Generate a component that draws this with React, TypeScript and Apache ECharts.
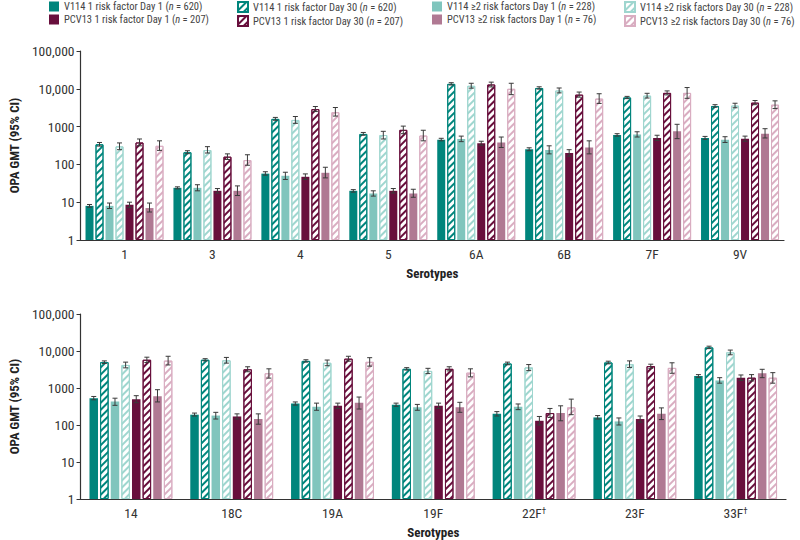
import React, { useEffect, useRef } from 'react';
import * as echarts from 'echarts';

const topCats = ['1', '3', '4', '5', '6A', '6B', '7F', '9V'];
const bottomCats = ['14', '18C', '19A', '19F', '22F†', '23F', '33F†'];

const names = [
  'V114 1 risk factor Day 1 (n = 620)',
  'V114 1 risk factor Day 30 (n = 620)',
  'V114 ≥2 risk factors Day 1 (n = 228)',
  'V114 ≥2 risk factors Day 30 (n = 228)',
  'PCV13 1 risk factor Day 1 (n = 207)',
  'PCV13 1 risk factor Day 30 (n = 207)',
  'PCV13 ≥2 risk factors Day 1 (n = 76)',
  'PCV13 ≥2 risk factors Day 30 (n = 76)',
];

// ---- Top panel (serotypes 1 ... 9V) ----
const topV1D1 = [8, 24, 57, 20, 450, 250, 600, 500];
const topV1D1Lo = [7.4, 22.5, 52, 18.5, 420, 230, 560, 460];
const topV1D1Hi = [8.7, 25.5, 64, 21.5, 490, 275, 650, 550];

const topV1D30 = [340, 210, 1600, 640, 13500, 10500, 5900, 3500];
const topV1D30Lo = [305, 192, 1470, 590, 12600, 9800, 5500, 3250];
const topV1D30Hi = [380, 230, 1750, 700, 14500, 11300, 6300, 3800];

const topV2D1 = [8, 24, 50, 17, 470, 240, 620, 450];
const topV2D1Lo = [6.8, 20, 40, 14.5, 400, 190, 530, 380];
const topV2D1Hi = [9.5, 29, 62, 20, 560, 310, 730, 540];

const topV2D30 = [300, 240, 1500, 600, 12000, 9000, 6600, 3600];
const topV2D30Lo = [245, 200, 1220, 470, 10400, 7800, 5700, 3150];
const topV2D30Hi = [370, 295, 1850, 750, 14000, 10500, 7600, 4150];

const topP1D1 = [8.5, 20, 47, 20, 360, 200, 500, 480];
const topP1D1Lo = [7.2, 17.5, 40, 17.5, 320, 165, 430, 410];
const topP1D1Hi = [10, 23, 56, 23, 410, 245, 590, 560];

const topP1D30 = [380, 160, 2900, 820, 13000, 7000, 7800, 4300];
const topP1D30Lo = [310, 135, 2500, 650, 11200, 6000, 6900, 3800];
const topP1D30Hi = [470, 190, 3400, 1030, 15000, 8200, 8800, 4900];

const topP2D1 = [7, 20, 60, 17, 380, 280, 750, 650];
const topP2D1Lo = [5.5, 15, 44, 13.5, 280, 190, 480, 500];
const topP2D1Hi = [9.5, 27, 84, 22, 530, 420, 1150, 880];

const topP2D30 = [310, 130, 2400, 580, 10000, 5500, 7800, 3800];
const topP2D30Lo = [235, 95, 1900, 420, 7000, 4100, 5600, 3000];
const topP2D30Hi = [420, 180, 3200, 800, 14000, 7400, 10800, 4800];

// ---- Bottom panel (serotypes 14 ... 33F) ----
const botV1D1 = [530, 190, 380, 350, 200, 160, 2100];
const botV1D1Lo = [480, 175, 345, 320, 175, 145, 1950];
const botV1D1Hi = [590, 210, 420, 390, 230, 180, 2300];

const botV1D30 = [5000, 5800, 5400, 3300, 4600, 4900, 12500];
const botV1D30Lo = [4600, 5400, 5000, 3050, 4250, 4500, 11600];
const botV1D30Hi = [5400, 6200, 5800, 3550, 5000, 5300, 13500];

const botV2D1 = [430, 180, 310, 300, 310, 125, 1600];
const botV2D1Lo = [340, 145, 250, 250, 260, 100, 1350];
const botV2D1Hi = [530, 220, 390, 360, 370, 155, 1900];

const botV2D30 = [4200, 5600, 4800, 2900, 3600, 4400, 9200];
const botV2D30Lo = [3500, 4700, 4000, 2450, 2950, 3600, 7900];
const botV2D30Hi = [5000, 6700, 5700, 3400, 4300, 5400, 10600];

const botP1D1 = [500, 170, 330, 330, 130, 145, 1900];
const botP1D1Lo = [400, 145, 280, 280, 100, 120, 1600];
const botP1D1Hi = [620, 200, 390, 390, 170, 175, 2250];

const botP1D30 = [5800, 3200, 6200, 3300, 210, 3900, 1900];
const botP1D30Lo = [4900, 2750, 5300, 2900, 160, 3400, 1550];
const botP1D30Hi = [6800, 3750, 7200, 3750, 280, 4400, 2300];

const botP2D1 = [600, 145, 400, 300, 210, 200, 2500];
const botP2D1Lo = [420, 105, 270, 220, 130, 140, 1900];
const botP2D1Hi = [900, 200, 570, 410, 330, 290, 3200];

const botP2D30 = [5500, 2500, 5100, 2600, 300, 3500, 1900];
const botP2D30Lo = [4200, 1850, 3900, 2000, 190, 2500, 1350];
const botP2D30Hi = [7200, 3300, 6600, 3300, 500, 4800, 2600];

const topVals = [topV1D1, topV1D30, topV2D1, topV2D30, topP1D1, topP1D30, topP2D1, topP2D30];
const topLo = [topV1D1Lo, topV1D30Lo, topV2D1Lo, topV2D30Lo, topP1D1Lo, topP1D30Lo, topP2D1Lo, topP2D30Lo];
const topHi = [topV1D1Hi, topV1D30Hi, topV2D1Hi, topV2D30Hi, topP1D1Hi, topP1D30Hi, topP2D1Hi, topP2D30Hi];
const botVals = [botV1D1, botV1D30, botV2D1, botV2D30, botP1D1, botP1D30, botP2D1, botP2D30];
const botLo = [botV1D1Lo, botV1D30Lo, botV2D1Lo, botV2D30Lo, botP1D1Lo, botP1D30Lo, botP2D1Lo, botP2D30Lo];
const botHi = [botV1D1Hi, botV1D30Hi, botV2D1Hi, botV2D30Hi, botP1D1Hi, botP1D30Hi, botP2D1Hi, botP2D30Hi];

const FONT = '"Roboto Condensed", "Liberation Sans", Arial, sans-serif';
const TEAL = '#00857c';
const LTEAL = '#80c5bd';
const PURPLE = '#680f3c';
const MAUVE = '#b07993';

const hatch = (border: string, stripe: string) => ({
  color: '#ffffff',
  borderColor: border,
  borderWidth: 1,
  decal: {
    symbol: 'rect',
    symbolSize: 1,
    color: stripe,
    dashArrayX: [1, 0],
    dashArrayY: [2, 2.5],
    rotation: -Math.PI / 4,
  },
});

const styles: any[] = [
  { color: TEAL },
  hatch(TEAL, TEAL),
  { color: LTEAL },
  hatch('#9fd6cf', '#9fd6cf'),
  { color: PURPLE },
  hatch(PURPLE, PURPLE),
  { color: MAUVE },
  hatch('#d9adc1', '#d9adc1'),
];

const fmtY = (v: number) => (v >= 10000 ? v.toLocaleString('en-US') : String(v));

function makeErr(step: number) {
  return (params: any, api: any) => {
    const c = api.value(0);
    const k = api.value(1);
    const pLo = api.coord([c, api.value(2)]);
    const pHi = api.coord([c, api.value(3)]);
    const x = pLo[0] + (k - 3.5) * step;
    const cw = 2.5;
    const st = { stroke: '#3a3a3a', lineWidth: 1 };
    return {
      type: 'group',
      children: [
        { type: 'line', shape: { x1: x, y1: pLo[1], x2: x, y2: pHi[1] }, style: st },
        { type: 'line', shape: { x1: x - cw, y1: pHi[1], x2: x + cw, y2: pHi[1] }, style: st },
        { type: 'line', shape: { x1: x - cw, y1: pLo[1], x2: x + cw, y2: pLo[1] }, style: st },
      ],
    };
  };
}

function errData(lo: number[][], hi: number[][]) {
  const out: number[][] = [];
  lo.forEach((arr, k) => arr.forEach((l, c) => out.push([c, k, l, hi[k][c]])));
  return out;
}

export default function App() {
  const ref = useRef<HTMLDivElement>(null);
  useEffect(() => {
    if (!ref.current) return;
    const chart = echarts.init(ref.current, undefined, { renderer: 'svg' });

    const xAxisBase = (cats: string[], gridIndex: number) => ({
      type: 'category',
      gridIndex,
      data: cats,
      name: 'Serotypes',
      nameLocation: 'middle',
      nameGap: 27,
      nameTextStyle: { fontFamily: FONT, fontWeight: 'bold', fontSize: 13, color: '#222' },
      axisLine: { lineStyle: { color: '#333', width: 1.2 } },
      axisTick: { alignWithLabel: true, length: 4, lineStyle: { color: '#333' } },
      axisLabel: {
        fontFamily: FONT,
        fontSize: 13.5,
        color: '#333',
        margin: 7,
        formatter: (v: string) => v.replace('†', '{s|†}'),
        rich: { s: { fontFamily: FONT, fontSize: 9, color: '#333', verticalAlign: 'top' } },
      },
    });
    const yAxisBase = (gridIndex: number) => ({
      type: 'log',
      logBase: 10,
      gridIndex,
      min: 1,
      max: 100000,
      name: 'OPA GMT (95% CI)',
      nameLocation: 'middle',
      nameGap: 58,
      nameTextStyle: { fontFamily: FONT, fontWeight: 'bold', fontSize: 13, color: '#222' },
      axisLine: { show: true, lineStyle: { color: '#333', width: 1.2 } },
      axisTick: { show: true, length: 4, lineStyle: { color: '#333' } },
      axisLabel: { fontFamily: FONT, fontSize: 13.5, color: '#333', margin: 6, formatter: fmtY },
      splitLine: { show: false },
    });

    const series: any[] = [];
    names.forEach((n, k) => {
      series.push({
        name: n,
        type: 'bar',
        xAxisIndex: 0,
        yAxisIndex: 0,
        data: topVals[k],
        barWidth: 8,
        barGap: '25%',
        itemStyle: styles[k],
      });
    });
    names.forEach((n, k) => {
      series.push({
        name: n,
        type: 'bar',
        xAxisIndex: 1,
        yAxisIndex: 1,
        data: botVals[k],
        barWidth: 8.5,
        barGap: '25%',
        itemStyle: styles[k],
      });
    });
    series.push({
      type: 'custom',
      xAxisIndex: 0,
      yAxisIndex: 0,
      renderItem: makeErr(10),
      encode: { x: 0, y: [2, 3] },
      data: errData(topLo, topHi),
      z: 5,
    });
    series.push({
      type: 'custom',
      xAxisIndex: 1,
      yAxisIndex: 1,
      renderItem: makeErr(10.625),
      encode: { x: 0, y: [2, 3] },
      data: errData(botLo, botHi),
      z: 5,
    });

    const legendCols = [
      { left: 49, data: [names[0], names[4]] },
      { left: 237, data: [names[1], names[5]] },
      { left: 432, data: [names[2], names[6]] },
      { left: 624, data: [names[3], names[7]] },
    ];

    chart.setOption({
      animation: false,
      textStyle: { fontFamily: FONT },
      legend: legendCols.map((c) => ({
        orient: 'vertical',
        left: c.left,
        top: 1,
        padding: 0,
        data: c.data,
        itemWidth: 10,
        itemHeight: 10,
        itemGap: 2,
        icon: 'rect',
        selectedMode: false,
        textStyle: {
          fontFamily: FONT,
          fontSize: 10.5,
          color: '#444',
          rich: { i: { fontStyle: 'italic', fontSize: 10.5, color: '#444', fontFamily: FONT } },
        },
        formatter: (name: string) => name.replace('(n ', '({i|n} '),
      })),
      grid: [
        { left: 68, top: 51, width: 716, height: 189 },
        { left: 68, top: 314, width: 718, height: 188 },
      ],
      xAxis: [xAxisBase(topCats, 0), xAxisBase(bottomCats, 1)],
      yAxis: [yAxisBase(0), yAxisBase(1)],
      series,
    });

    return () => chart.dispose();
  }, []);

  return (
    <div
      ref={ref}
      style={{ position: 'fixed', left: 0, top: 0, width: 800, height: 540, background: '#fff' }}
    />
  );
}
